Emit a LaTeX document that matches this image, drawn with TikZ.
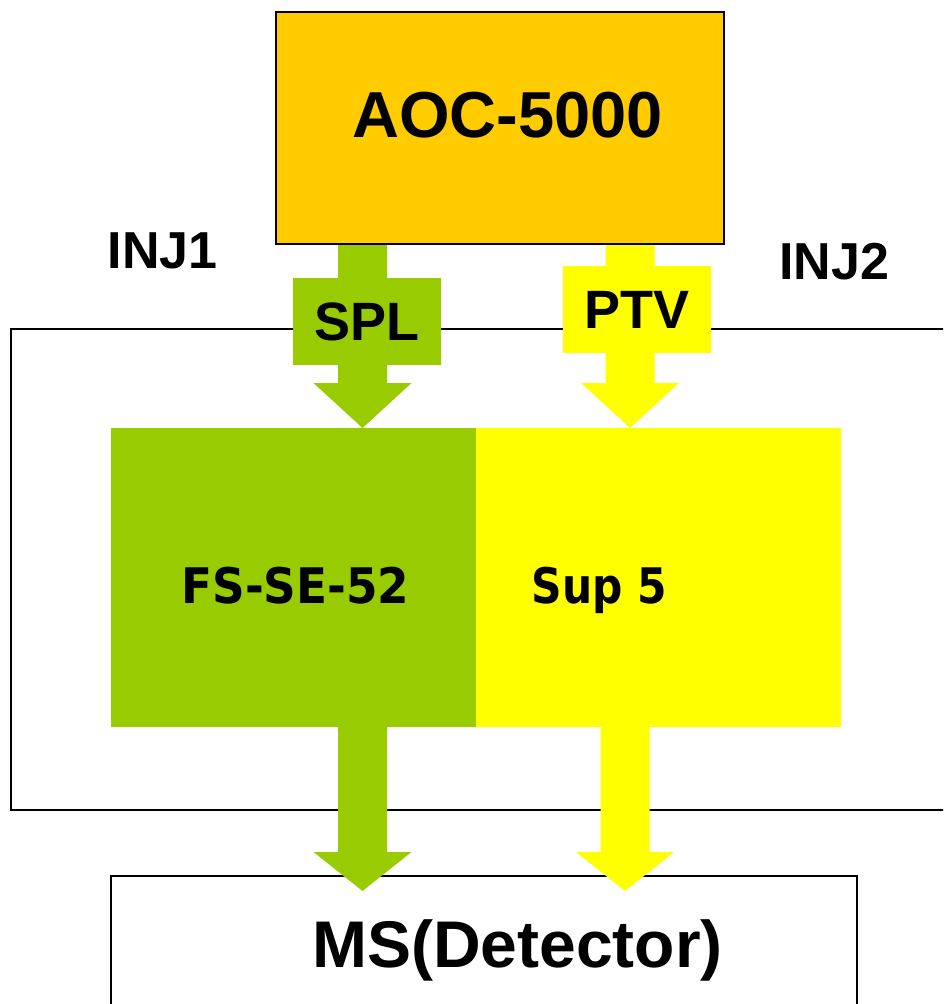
\documentclass[tikz,border=0pt]{standalone}
\usepackage{fontspec}
\setmainfont{Liberation Sans}
\newfontfamily\dvs{DejaVu Sans}
\usetikzlibrary{calc}
\definecolor{cgreen}{HTML}{99CC00}
\definecolor{cyellow}{HTML}{FFFF00}
\definecolor{corange}{HTML}{FFCC00}
\newcommand\blockarrow[4]{%
  \fill[#3] let \p1=(#1), \p2=(#2) in
    (\x2-24.5pt,\y1) -- (\x2+24.5pt,\y1) -- (\x2+24.5pt,\y2+#4) --
    (\x2+49pt,\y2+#4) -- (\x2,\y2) -- (\x2-49pt,\y2+#4) --
    (\x2-24.5pt,\y2+#4) -- cycle;}
\begin{document}
\begin{tikzpicture}[x=1pt,y=-1pt,
  box/.style={rectangle,inner sep=0pt,outer sep=0pt},
  txt/.style={anchor=base,inner sep=0pt,font=\bfseries},
  lbl/.style={box,font=\fontsize{54}{60}\selectfont\bfseries}]
\useasboundingbox (0,0) rectangle (943,1004);
\clip (0,0) rectangle (943,1004);
\fill[white] (0,0) rectangle (943,1004);
% frames
\node[box,draw=black,line width=2pt,minimum width=949pt,minimum height=481pt] (outer) at (485.5,569.5) {};
\node[box,draw=black,line width=1.5pt,minimum width=746pt,minimum height=140pt] (ms) at (484,946) {};
% column
\node[box,fill=cgreen,minimum width=365pt,minimum height=299pt] (fs) at (293.5,577.5) {};
\node[box,fill=cyellow,minimum width=365pt,minimum height=299pt] (sup) at (658.5,577.5) {};
% arrow tips
\coordinate (t1) at (362.5,428);
\coordinate (t2) at (630,428);
\coordinate (b1) at (362.5,891);
\coordinate (b2) at (625,891);
\node[box,minimum width=448pt,minimum height=232pt] (aocshape) at (500,128) {};
\blockarrow{aocshape.south}{t1}{cgreen}{45pt}
\blockarrow{aocshape.south}{t2}{cyellow}{45pt}
\blockarrow{fs.south}{b1}{cgreen}{39pt}
\blockarrow{sup.south}{b2}{cyellow}{39pt}
\node[box,fill=corange,draw=black,line width=1.5pt,minimum width=448pt,minimum height=232pt] (aoc) at (500,128) {};
% label boxes
\node[lbl,fill=cgreen,minimum width=148pt,minimum height=87pt] (spl) at (367,321.5) {SPL};
\node[lbl,fill=cyellow,minimum width=148pt,minimum height=87pt] (ptv) at (637,309.5) {PTV};
% texts
\node[txt,font=\fontsize{65}{70}\selectfont\bfseries] (aoct) at (507.5,137) {AOC-5000};
\node[txt,font=\fontsize{52}{60}\selectfont\bfseries] (inj1) at (162.5,268) {INJ1};
\node[txt,font=\fontsize{52}{60}\selectfont\bfseries] (inj2) at (834,279) {INJ2};
\node[txt,font=\fontsize{49}{55}\selectfont\dvs\bfseries] (fst) at (295.5,603) {\scalebox{0.925}[1]{FS-SE-52}};
\node[txt,font=\fontsize{49}{55}\selectfont\dvs\bfseries] (supt) at (599.5,603) {\scalebox{0.865}[1]{Sup 5}};
\node[txt,font=\fontsize{66}{72}\selectfont\bfseries] (mst) at (517.5,967) {MS(Detector)};
\end{tikzpicture}
\end{document}
